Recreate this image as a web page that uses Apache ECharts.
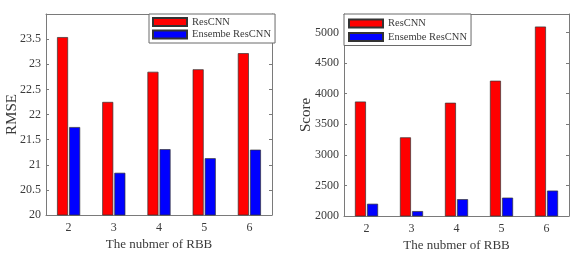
<!DOCTYPE html>
<html>
<head>
<meta charset="utf-8">
<script src="https://cdn.jsdelivr.net/npm/echarts@6/dist/echarts.min.js"></script>
<style>
html,body{margin:0;padding:0;background:#fff;}
#c{width:579px;height:259px;}
</style>
</head>
<body>
<div id="c"></div>
<script>
const categories = ['2', '3', '4', '5', '6'];
const seriesNames = ['ResCNN', 'Ensembe ResCNN'];
const rmseResCNN = [23.54, 22.25, 22.85, 22.9, 23.22];
const rmseEnsemble = [21.75, 20.84, 21.31, 21.13, 21.3];
const scoreResCNN = [3870, 3285, 3850, 4210, 5095];
const scoreEnsemble = [2200, 2080, 2275, 2300, 2415];
const rmseAxis = { min: 20, max: 24, interval: 0.5 };
const scoreAxis = { min: 2000, max: 5300, interval: 500 };
const xTitle = 'The nubmer of RBB';
const yTitles = ['RMSE', 'Score'];

const FONT = '"Liberation Serif", "Times New Roman", serif';
const AXIS_COLOR = '#7a7a7a';
const TEXT_COLOR = '#3a3a3a';
const RED = '#ff0000';
const BLUE = '#0000ff';

function xAxisMain(gi) {
  return {
    type: 'category', gridIndex: gi, data: categories, position: 'bottom',
    axisLine: { lineStyle: { color: AXIS_COLOR, width: 1 } },
    axisTick: { inside: true, length: 3, alignWithLabel: true, lineStyle: { color: AXIS_COLOR } },
    axisLabel: { color: TEXT_COLOR, fontFamily: FONT, fontSize: 12, margin: 7 },
    name: xTitle, nameLocation: 'middle', nameGap: 23, nameMoveOverlap: false,
    nameTextStyle: { color: TEXT_COLOR, fontFamily: FONT, fontSize: 13 }
  };
}
function xAxisTop(gi) {
  return {
    type: 'category', gridIndex: gi, data: categories, position: 'top',
    axisLine: { lineStyle: { color: AXIS_COLOR, width: 1 } },
    axisTick: { inside: true, length: 3, alignWithLabel: true, lineStyle: { color: AXIS_COLOR } },
    axisLabel: { show: false }
  };
}
function yAxisMain(gi, ax, name, gap) {
  return {
    type: 'value', gridIndex: gi, min: ax.min, max: ax.max, interval: ax.interval, position: 'left',
    splitLine: { show: false },
    axisLine: { show: true, lineStyle: { color: AXIS_COLOR, width: 1 } },
    axisTick: { show: true, inside: true, length: 3, lineStyle: { color: AXIS_COLOR } },
    axisLabel: { color: TEXT_COLOR, fontFamily: FONT, fontSize: 12, margin: 5, showMaxLabel: false,
      formatter: function (v) { return String(v); } },
    name: name, nameLocation: 'middle', nameGap: gap, nameMoveOverlap: false,
    nameTextStyle: { color: TEXT_COLOR, fontFamily: FONT, fontSize: 15 }
  };
}
function yAxisRight(gi, ax) {
  return {
    type: 'value', gridIndex: gi, min: ax.min, max: ax.max, interval: ax.interval, position: 'right',
    splitLine: { show: false },
    axisLine: { show: true, lineStyle: { color: AXIS_COLOR, width: 1 } },
    axisTick: { show: true, inside: true, length: 3, lineStyle: { color: AXIS_COLOR } },
    axisLabel: { show: false }
  };
}
function bar(name, data, color, xi, yi) {
  return {
    type: 'bar', name: name, data: data, xAxisIndex: xi, yAxisIndex: yi,
    barWidth: 11, barGap: '10%',
    itemStyle: { color: color, borderColor: '#333', borderWidth: 0.7 }
  };
}
function legend(left, top, gap, pad) {
  return {
    data: seriesNames, orient: 'vertical', left: left, top: top,
    backgroundColor: '#fff', borderColor: '#6a6a6a', borderWidth: 1, borderRadius: 0,
    padding: pad, itemGap: gap, itemWidth: 34, itemHeight: 8, icon: 'rect',
    selectedMode: false,
    textStyle: { color: TEXT_COLOR, fontFamily: FONT, fontSize: 10.5, lineHeight: 10 }
  };
}

const chart = echarts.init(document.getElementById('c'), null, { renderer: 'canvas' });
chart.setOption({
  backgroundColor: '#fff',
  animation: false,
  grid: [
    { left: 46, top: 14, width: 226, height: 201, containLabel: false },
    { left: 344, top: 14, width: 225, height: 202, containLabel: false }
  ],
  xAxis: [xAxisMain(0), xAxisMain(1), xAxisTop(0), xAxisTop(1)],
  yAxis: [
    yAxisMain(0, rmseAxis, yTitles[0], 26),
    yAxisMain(1, scoreAxis, yTitles[1], 30),
    yAxisRight(0, rmseAxis),
    yAxisRight(1, scoreAxis)
  ],
  legend: [
    legend(149, 14, 1.5, [2.5, 4, 3, 3]),
    legend(344, 14, 2.5, [4, 4, 3, 4])
  ],
  series: [
    bar(seriesNames[0], rmseResCNN, RED, 0, 0),
    bar(seriesNames[1], rmseEnsemble, BLUE, 0, 0),
    bar(seriesNames[0], scoreResCNN, RED, 1, 1),
    bar(seriesNames[1], scoreEnsemble, BLUE, 1, 1)
  ]
});
</script>
</body>
</html>
